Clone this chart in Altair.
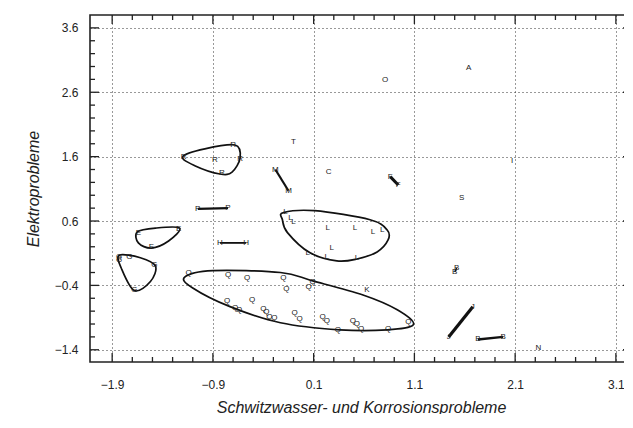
import altair as alt
import pandas as pd

W, H = 542, 347

# ---------------- data ----------------
# single labelled points
single_lbl = ["A", "O", "T", "C", "I", "S", "N", "R", "K"]
single_x = [1.64, 0.81, -0.10, 0.25, 2.07, 1.57, 2.33, -0.88, 0.63]
single_y = [2.98, 2.79, 1.83, 1.36, 1.53, 0.96, -1.37, 1.55, -0.47]

# two-point segments (label, x1, y1, x2, y2)
seg_lbl = ["F", "H", "P", "M", "B", "J", "B"]
seg_x1 = [0.86, -0.83, -1.05, -0.28, 1.52, 1.44, 1.73]
seg_y1 = [1.29, 0.26, 0.79, 1.40, -0.13, -1.20, -1.24]
seg_x2 = [0.94, -0.57, -0.75, -0.15, 1.50, 1.68, 1.98]
seg_y2 = [1.16, 0.26, 0.80, 1.07, -0.19, -0.73, -1.20]
seg_w = [3.0, 1.8, 2.2, 2.2, 1.5, 3.2, 2.4]

# clustered points
r_pts_x = [-1.19, -0.70, -0.63, -0.81]
r_pts_y = [1.60, 1.78, 1.57, 1.35]
e_pts_x = [-1.64, -1.24, -1.51]
e_pts_y = [0.42, 0.48, 0.20]
g_pts_x = [-1.83, -1.73, -1.48, -1.68, -1.83]
g_pts_y = [0.04, 0.04, -0.08, -0.47, 0.00]
l_pts_x = [-0.18, -0.13, -0.10, 0.24, 0.51, 0.69, 0.78, 0.28, 0.04, 0.23, 0.53]
l_pts_y = [0.74, 0.65, 0.59, 0.49, 0.49, 0.43, 0.46, 0.18, 0.11, 0.04, 0.03]
q_pts_x = [-1.14, -0.75, -0.56, -0.20, -0.17, 0.05, 0.09, -0.76, -0.68, -0.64,
           -0.51, -0.40, -0.37, -0.34, -0.29, -0.09, -0.04, 0.19, 0.23, 0.34,
           0.49, 0.53, 0.57, 0.84, 1.04]
q_pts_y = [-0.20, -0.24, -0.28, -0.28, -0.45, -0.42, -0.34, -0.65, -0.75, -0.79,
           -0.62, -0.76, -0.81, -0.89, -0.90, -0.83, -0.92, -0.89, -0.95, -1.09,
           -0.95, -1.00, -1.07, -1.07, -0.97]

# closed envelopes around the clusters
r_env_x = [-1.20, -0.98, -0.68, -0.63, -0.71, -0.83, -1.08]
r_env_y = [1.60, 1.72, 1.78, 1.58, 1.36, 1.33, 1.46]
e_env_x = [-1.65, -1.47, -1.23, -1.34, -1.51, -1.64]
e_env_y = [0.43, 0.49, 0.49, 0.29, 0.18, 0.26]
g_env_x = [-1.83, -1.62, -1.47, -1.52, -1.68, -1.81]
g_env_y = [0.07, 0.03, -0.10, -0.34, -0.48, -0.13]
l_env_x = [-0.20, 0.11, 0.66, 0.83, 0.84, 0.73, 0.53, 0.33, 0.06, -0.16, -0.21]
l_env_y = [0.73, 0.76, 0.62, 0.46, 0.31, 0.12, 0.01, -0.02, 0.11, 0.42, 0.62]
q_env_x = [-1.18, -0.90, -0.23, 0.09, 0.59, 0.93, 1.09, 0.83, 0.36, -0.23, -0.73, -1.10]
q_env_y = [-0.27, -0.17, -0.20, -0.33, -0.55, -0.78, -1.01, -1.09, -1.09, -0.98, -0.73, -0.44]

# axes
x_major = [-1.9, -0.9, 0.1, 1.1, 2.1, 3.1]
y_major = [-1.4, -0.4, 0.6, 1.6, 2.6, 3.6]
x_minor = [round(-1.9 + 0.2 * i, 1) for i in range(26) if i % 5]
y_minor = [round(-1.4 + 0.2 * i, 1) for i in range(26) if i % 5]

# ---------------- tables ----------------
pts_rows = []
for l, x, y in zip(single_lbl, single_x, single_y):
    pts_rows.append({"x": x, "y": y, "lbl": l})
for l, xs, ys in [("R", r_pts_x, r_pts_y), ("E", e_pts_x, e_pts_y),
                  ("G", g_pts_x, g_pts_y), ("L", l_pts_x, l_pts_y),
                  ("Q", q_pts_x, q_pts_y)]:
    for x, y in zip(xs, ys):
        pts_rows.append({"x": x, "y": y, "lbl": l})
for l, a, b, c, d in zip(seg_lbl, seg_x1, seg_y1, seg_x2, seg_y2):
    pts_rows.append({"x": a, "y": b, "lbl": l})
    pts_rows.append({"x": c, "y": d, "lbl": l})
pts = pd.DataFrame(pts_rows)

env_rows = []
for g, xs, ys in [("R", r_env_x, r_env_y), ("E", e_env_x, e_env_y),
                  ("G", g_env_x, g_env_y), ("L", l_env_x, l_env_y),
                  ("Q", q_env_x, q_env_y)]:
    for i, (x, y) in enumerate(zip(xs, ys)):
        env_rows.append({"x": x, "y": y, "g": g, "o": i})
env = pd.DataFrame(env_rows)

seg_rows = []
for i, (a, b, c, d, w) in enumerate(zip(seg_x1, seg_y1, seg_x2, seg_y2, seg_w)):
    seg_rows.append({"x": a, "y": b, "x2": c, "y2": d, "w": w, "g": i})
seg = pd.DataFrame(seg_rows)

# ---------------- encodings ----------------
xs = alt.Scale(domain=[-2.12, 3.26], nice=False, zero=False)
ys = alt.Scale(domain=[-1.59, 3.80], nice=False, zero=False)
xaxis = alt.Axis(values=x_major, format=".1f", grid=True, ticks=False, domain=False,
                 labelPadding=17, title="Schwitzwasser- und Korrosionsprobleme",
                 titleY=45, titleBaseline="middle", titleX=W / 2)
yaxis = alt.Axis(values=y_major, format=".1f", grid=True, ticks=False, domain=False,
                 labelPadding=12, title="Elektroprobleme",
                 titleX=-57, titleY=H / 2, titleBaseline="middle")
X = alt.X("x:Q", scale=xs, axis=xaxis)
Y = alt.Y("y:Q", scale=ys, axis=yaxis)

loops = alt.Chart(env).mark_line(
    interpolate="cardinal-closed", color="#111", strokeWidth=1.7
).encode(x=X, y=Y, detail="g:N", order="o:Q")

segs = alt.Chart(seg).mark_rule(color="#111").encode(
    x=X, y=Y, x2="x2:Q", y2="y2:Q",
    strokeWidth=alt.StrokeWidth("w:Q", scale=None, legend=None))

labels = alt.Chart(pts).mark_text(
    font="Liberation Sans", fontSize=8, color="#222", fill="#222"
).encode(x=X, y=Y, text="lbl:N")

layers = [loops, segs, labels]

# inward ticks on all four sides
def vticks(vals, length):
    df = pd.DataFrame({"x": vals})
    bot = alt.Chart(df).mark_rule(color="#222", strokeWidth=1.3).encode(
        x=X, y=alt.value(H), y2=alt.value(H - length))
    top = alt.Chart(df).mark_rule(color="#222", strokeWidth=1.3).encode(
        x=X, y=alt.value(0), y2=alt.value(length))
    return [bot, top]

def hticks(vals, length):
    df = pd.DataFrame({"y": vals})
    left = alt.Chart(df).mark_rule(color="#222", strokeWidth=1.3).encode(
        y=Y, x=alt.value(0), x2=alt.value(length))
    right = alt.Chart(df).mark_rule(color="#222", strokeWidth=1.3).encode(
        y=Y, x=alt.value(W), x2=alt.value(W - length))
    return [left, right]

layers += vticks(x_major, 9) + vticks(x_minor, 5)
layers += hticks(y_major, 9) + hticks(y_minor, 5)

chart = alt.layer(*layers).properties(
    width=W, height=H, autosize="none",
    padding={"left": 82, "top": 7, "right": -8, "bottom": 52}
).configure_view(
    stroke="#222", strokeWidth=1.6
).configure_axis(
    labelFont="Liberation Sans", labelFontSize=12, labelColor="#222",
    titleFont="Liberation Sans", titleFontSize=16, titleFontStyle="italic",
    titleFontWeight="normal", titleColor="#222",
    gridColor="#333", gridDash=[1, 3], gridWidth=1, gridOpacity=1
)

chart.save("out.html", embed_options={"renderer": "svg", "actions": False})
